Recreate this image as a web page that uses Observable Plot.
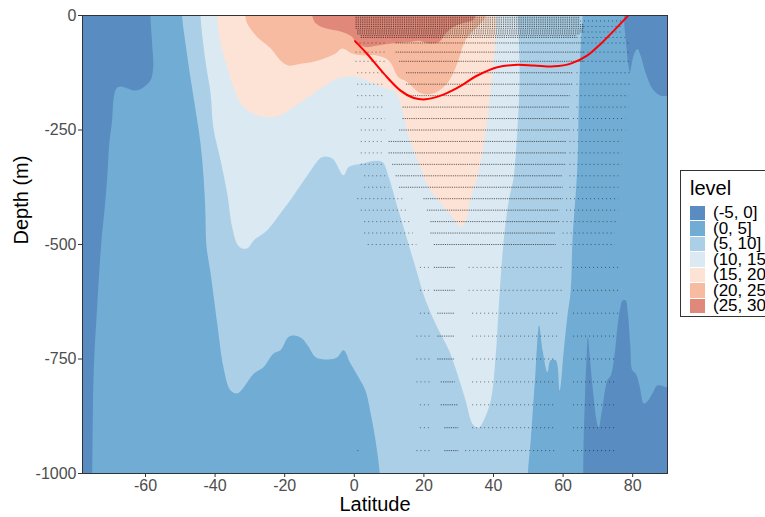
<!DOCTYPE html>
<html>
<head>
<meta charset="utf-8">
<script src="https://cdn.jsdelivr.net/npm/d3@7"></script>
<script src="https://cdn.jsdelivr.net/npm/@observablehq/plot@0.6"></script>
<style>
  html, body { margin: 0; padding: 0; background: #fff; }
  body { width: 765px; height: 517px; overflow: hidden; position: relative; font-family: "Liberation Sans", Arial, sans-serif; }
  #chart { position: absolute; left: 0; top: 0; }
  #legend { position: absolute; left: 680px; top: 170px; width: 110px; height: 147px; border: 1px solid #333; box-sizing: border-box; background: #fff; }
  #legend .title { position: absolute; left: 9px; top: 6px; font-size: 20px; line-height: 22px; color: #000; }
  #legend .item { position: absolute; left: 9px; height: 15.5px; }
  #legend .key { position: absolute; left: 0; top: 0.5px; width: 15px; height: 14.5px; }
  #legend .lab { position: absolute; left: 23px; top: 0px; font-size: 17px; color: #000; white-space: nowrap; line-height: 15.5px; }
</style>
</head>
<body>
<div id="chart"></div>
<div id="legend"></div>
<script>
// ---------- data ----------
const xTicks = [-60, -40, -20, 0, 20, 40, 60, 80];
const yTicks = [0, -250, -500, -750, -1000];
const levels = ["(-5, 0]", "(0, 5]", "(5, 10]", "(10, 15]", "(15, 20]", "(20, 25]", "(25, 30]"];
const levelColors = ["#598cc1", "#70acd3", "#abcfe6", "#dbe9f3", "#fde3d5", "#f7bba1", "#e08879"];

// filled contour boundaries [latitude, depth] (region where temperature exceeds the level's lower bound)
const contourAbove0 = [
  [-58.6, 40], [-58.6, 0], [-58.1, -61], [-57.8, -114], [-58.6, -142], [-61.0, -159], [-62.9, -164],
  [-67.2, -155], [-68.3, -159], [-69.1, -178], [-69.6, -229], [-70.4, -279], [-71.0, -354], [-71.8, -426],
  [-72.7, -496], [-73.9, -637], [-74.9, -782], [-75.3, -1000], [-75.5, -1060],
  [65.8, -1060], [65.8, -1000], [65.9, -930], [66.3, -830], [66.8, -740], [67.1, -702], [67.6, -740],
  [68.6, -820], [69.5, -880], [70.2, -900], [71.2, -860], [72.7, -797], [73.7, -786], [74.8, -740],
  [75.6, -681], [76.4, -640], [77.1, -622], [78.0, -622], [78.6, -650], [79.3, -720], [79.9, -775],
  [80.9, -782], [82.0, -810], [83.2, -847], [84.5, -840], [85.7, -825], [87.1, -808], [90, -812], [97, -812],
  [97, -175], [88.1, -175], [85.7, -160], [83.8, -127], [82.3, -88], [81.4, -73], [80.5, -82], [79.6, -110],
  [79.2, -124], [78.7, -105], [78.1, -60], [77.7, -30], [77.5, 0], [77.5, 40]
];
const contourAbove5 = [
  [-49.5, 40], [-49.5, 0], [-48.5, -61], [-47.1, -135], [-45.6, -207], [-44.2, -279], [-43.3, -354],
  [-42.8, -426], [-42.5, -502], [-41.3, -563], [-39.4, -672], [-37.6, -768], [-35.6, -818], [-33.6, -825],
  [-31.8, -812], [-28.9, -782], [-26.1, -768], [-23.2, -738], [-21.2, -731], [-18.9, -702], [-16.9, -699],
  [-15.0, -705], [-13.1, -724], [-11.1, -746], [-7.4, -751], [-4.9, -746], [-3.1, -731], [-1.1, -760],
  [1.2, -790], [3.2, -819], [4.7, -869], [6.1, -928], [7.3, -1000], [7.5, -1060],
  [49.9, -1060], [49.9, -1000], [50.7, -928], [52.1, -775], [53.1, -677], [54.1, -731], [55.5, -779],
  [56.4, -753], [57.9, -753], [59.0, -819], [60.2, -731], [61.2, -659], [62.2, -600], [62.7, -491],
  [64.1, -331], [64.6, -164], [65.1, -61], [65.6, 0], [65.6, 40]
];
const contourAbove10 = [
  [-44.2, 40], [-44.2, 0], [-42.8, -98], [-41.3, -170], [-40.5, -245], [-38.4, -317], [-36.5, -389],
  [-35.1, -462], [-33.6, -500], [-32.4, -508], [-30.7, -508], [-28.9, -491], [-25.0, -469], [-21.2, -432],
  [-17.8, -397], [-13.1, -345], [-9.2, -309], [-6.3, -312], [-3.1, -349], [-1.6, -331], [2.3, -323],
  [6.1, -317], [8.1, -320], [9.9, -353], [12.7, -426], [15.7, -502], [17.6, -550], [20.5, -622],
  [24.3, -688], [27.2, -731], [29.6, -782], [32.0, -841], [33.9, -891], [35.2, -900], [36.0, -899],
  [37.2, -884], [39.2, -841], [40.6, -746], [41.5, -637], [42.8, -502], [44.4, -404], [45.8, -353],
  [46.9, -244], [47.5, -135], [47.3, -61], [47.0, 0], [47.0, 40]
];
const contourAbove15 = [
  [-39.4, 40], [-39.4, 0], [-38.4, -61], [-36.5, -113], [-34.7, -157], [-31.8, -200], [-27.9, -218],
  [-25.0, -222], [-21.2, -218], [-18.9, -207], [-13.1, -178], [-7.4, -148], [-3.5, -135], [1.2, -135],
  [5.2, -148], [9.0, -159], [11.9, -168], [13.8, -207], [15.7, -266], [18.6, -323], [21.4, -375],
  [24.2, -404], [28.2, -440], [30.6, -462], [32.0, -448], [33.5, -397], [35.4, -352], [36.9, -295],
  [38.2, -229], [39.2, -164], [40.1, -98], [40.6, -44], [40.9, 0], [40.9, 40]
];
const contourAbove20 = [
  [-31.3, 40], [-31.3, 0], [-30.8, -17], [-27.9, -47], [-24.0, -72], [-21.2, -98], [-18.9, -109],
  [-15.0, -105], [-10.3, -98], [-5.4, -83], [-3.5, -72], [-0.6, -83], [2.3, -87], [6.1, -87],
  [9.9, -98], [12.7, -135], [15.2, -145], [19.1, -170], [22.9, -170], [26.7, -148], [29.6, -105],
  [31.5, -61], [33.4, -39], [35.7, -22], [37.8, 0], [37.8, 40]
];
const contourAbove25 = [
  [-12.1, 40], [-12.1, 0], [-11.1, -17], [-8.3, -28], [-3.5, -36], [-0.6, -47], [0.4, -58],
  [3.2, -69], [6.1, -66], [10.9, -61], [15.7, -58], [18.6, -55], [21.4, -61], [24.3, -58],
  [26.3, -39], [28.2, -26], [31.1, -17], [33.9, -11], [34.9, 0], [34.9, 40]
];

// observation rows: [depth, latitude from, latitude to]
const denseRows = [
  [-4, 0.5, 65], [-8, 0.5, 65], [-12, 0.5, 65], [-16, 0.5, 65], [-20, 0.5, 66], [-24, 0.5, 66],
  [-28, 0.5, 66], [-32, 1, 66], [-36, 1, 66], [-40, 1, 65], [-44, 2, 64], [-48, 2, 64],
  [-60, 12, 66], [-80, 12, 66], [-100, 13, 66],
  [-125, 15, 63], [-150, 15, 63], [-175, 15, 62], [-200, 14, 62], [-225, 14, 62], [-250, 13, 62],
  [-275, 10, 61], [-300, 10, 61], [-325, 11, 61], [-350, 12, 60], [-375, 13, 60],
  [-400, 20, 60], [-425, 21, 59], [-450, 22, 59], [-475, 22, 58], [-500, 23, 58],
  [-550, 23, 29], [-600, 23, 29], [-650, 24, 29], [-700, 24, 29], [-750, 24, 29],
  [-800, 25, 29], [-850, 25, 30], [-900, 26, 30], [-950, 26, 30]
];
const sparseRows = [
  [-12, 65, 77], [-24, 66, 77], [-36, 66, 77], [-48, 64, 78],
  [-60, 0.5, 9], [-60, 66, 79], [-80, 0.5, 9], [-80, 66, 79], [-100, 0.5, 9], [-100, 66, 79],
  [-125, 1, 9], [-125, 64, 80], [-150, 1, 9], [-150, 64, 80], [-175, 1, 9], [-175, 64, 79],
  [-200, 1, 9], [-200, 64, 79], [-225, 2, 9], [-225, 63, 78], [-250, 2, 9], [-250, 63, 78],
  [-275, 2, 8], [-275, 62, 77], [-300, 2, 8], [-300, 62, 77], [-325, 2, 8], [-325, 62, 77],
  [-350, 3, 9], [-350, 62, 76], [-375, 3, 10], [-375, 62, 76],
  [-400, 1, 14], [-400, 61, 76], [-425, 2, 15], [-425, 61, 76], [-450, 3, 16], [-450, 60, 76],
  [-475, 3, 17], [-475, 60, 75], [-500, 4, 18], [-500, 60, 75],
  [-550, 19, 22], [-550, 33, 60], [-550, 63, 76], [-600, 19, 22], [-600, 33, 60], [-600, 63, 76],
  [-650, 19, 22], [-650, 34, 59], [-650, 63, 76], [-700, 18, 22], [-700, 34, 59], [-700, 63, 75],
  [-750, 18, 22], [-750, 34, 58], [-750, 63, 75], [-800, 18, 22], [-800, 34, 58], [-800, 63, 75],
  [-850, 19, 22], [-850, 34, 58], [-850, 63, 75], [-900, 19, 22], [-900, 34, 58], [-900, 63, 75],
  [-950, 1, 1.5], [-950, 18, 22], [-950, 32, 58], [-950, 63, 75]
];

// smoothed curve (red)
const smoothLat = [0.2, 3.7, 8.5, 13.3, 17.1, 20.5, 24.8, 29.6, 35.4, 41.1, 45.9, 51.6, 57.4, 62.2, 67.0, 70.8, 74.6, 78.5];
const smoothDepth = [-56, -84, -127, -164, -180, -183, -175, -158, -131, -113, -108, -109, -111, -105, -87, -62, -33, -2];

// ---------- chart ----------
const contours = [
  [levels[1], contourAbove0], [levels[2], contourAbove5], [levels[3], contourAbove10],
  [levels[4], contourAbove15], [levels[5], contourAbove20], [levels[6], contourAbove25]
];
const smooth = smoothLat.map((lat, i) => ({lat, depth: smoothDepth[i]}));
const fmt = d => String(d);

const chart = Plot.plot({
  width: 680,
  height: 517,
  marginLeft: 82,
  marginRight: 13,
  marginTop: 15,
  marginBottom: 44,
  style: {fontFamily: "'Liberation Sans', Arial, sans-serif", background: "#fff"},
  x: {domain: [-78.1, 90], label: null},
  y: {domain: [-1000, 0], label: null},
  color: {type: "ordinal", domain: levels, range: levelColors},
  marks: [
    Plot.rect([levels[0]], {x1: () => -78.1, x2: () => 90, y1: () => -1000, y2: () => 0, fill: d => d}),
    ...contours.map(([lev, pts]) => Plot.line(pts, {
      x: d => d[0], y: d => d[1], fill: () => lev, stroke: "none",
      curve: "catmull-rom-closed", clip: true
    })),
    Plot.ruleY(denseRows, {y: d => d[0], x1: d => d[1], x2: d => d[2], stroke: "#111",
      strokeOpacity: 0.62, strokeWidth: 1, strokeDasharray: "1.2,1", clip: true}),
    Plot.ruleY(sparseRows, {y: d => d[0], x1: d => d[1], x2: d => d[2], stroke: "#111",
      strokeOpacity: 0.55, strokeWidth: 1, strokeDasharray: "1,3", clip: true}),
    Plot.line(smooth, {x: "lat", y: "depth", stroke: "red", strokeWidth: 2, curve: "catmull-rom", clip: true}),
    Plot.frame({stroke: "#333", strokeWidth: 1}),
    Plot.axisX({ticks: xTicks, tickFormat: fmt, tickSize: 4, tickPadding: 2, fontSize: 16,
      stroke: "#333", fill: "#4d4d4d", label: null}),
    Plot.axisY({ticks: yTicks, tickFormat: fmt, tickSize: 4, tickPadding: 2, fontSize: 16,
      stroke: "#333", fill: "#4d4d4d", label: null}),
    Plot.text(["Latitude"], {frameAnchor: "bottom", dy: 37, fontSize: 20, fill: "#000"}),
    Plot.text(["Depth (m)"], {frameAnchor: "left", dx: -61, rotate: -90, fontSize: 20, fill: "#000"})
  ]
});
document.getElementById("chart").appendChild(chart);

// legend
const legend = document.getElementById("legend");
const title = document.createElement("div");
title.className = "title";
title.textContent = "level";
legend.appendChild(title);
levels.forEach((lev, i) => {
  const item = document.createElement("div");
  item.className = "item";
  item.style.top = (34 + i * 15.5) + "px";
  const key = document.createElement("div");
  key.className = "key";
  key.style.background = levelColors[i];
  const lab = document.createElement("div");
  lab.className = "lab";
  lab.textContent = lev;
  item.appendChild(key);
  item.appendChild(lab);
  legend.appendChild(item);
});
</script>
</body>
</html>
